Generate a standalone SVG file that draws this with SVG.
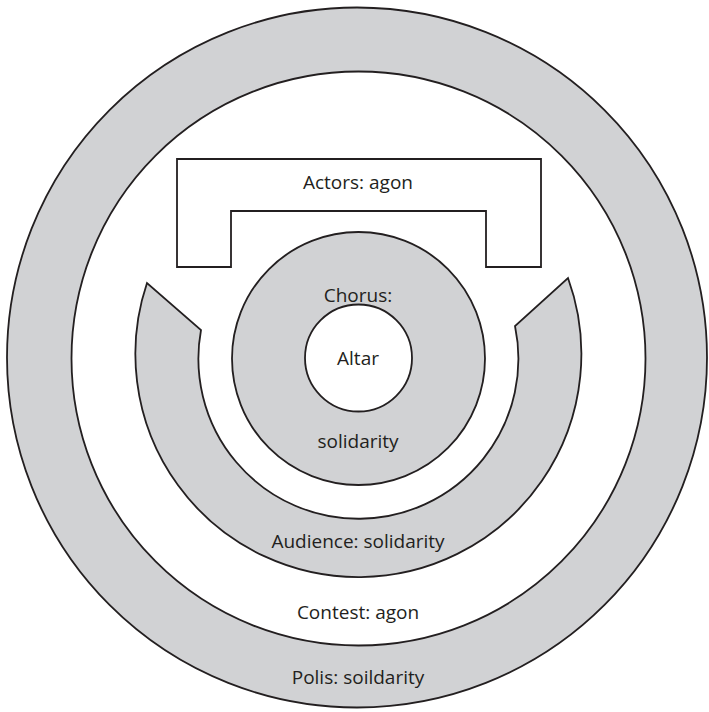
<svg xmlns="http://www.w3.org/2000/svg" width="709" height="712" viewBox="0 0 709 712">
<style>
.s{stroke:#231f20;stroke-width:1.8;}
.g{fill:#d1d2d4;}
.w{fill:#ffffff;}
text{font-family:"Open Sans","Noto Sans","Liberation Sans",sans-serif;font-size:19px;fill:#231f20;text-anchor:middle;}
</style>
<rect width="709" height="712" fill="#ffffff"/>
<g id="polis">
<circle class="s g" cx="357" cy="357.5" r="350"/>
</g>
<g id="contest">
<circle class="s w" cx="358.5" cy="358.5" r="287"/>
</g>
<g id="audience">
<path class="s g" d="M147,283 A223,223 0 1,0 568,278 L515,326 A160,160 0 1,1 201,330 Z"/>
</g>
<g id="actors">
<path class="s w" d="M177,159 L541,159 L541,267 L486,267 L486,211 L231,211 L231,267 L177,267 Z"/>
</g>
<g id="chorus">
<circle class="s g" cx="358.5" cy="358.5" r="126.5"/>
</g>
<g id="altar">
<circle class="s w" cx="358.5" cy="358" r="53.5"/>
</g>
<g id="connectors"></g>
<g id="labels">
<text x="358" y="189">Actors: agon</text>
<text x="358" y="302">Chorus:</text>
<text x="358" y="365">Altar</text>
<text x="358" y="448">solidarity</text>
<text x="358" y="548">Audience: solidarity</text>
<text x="358" y="619">Contest: agon</text>
<text x="358" y="684">Polis: soildarity</text>
</g>
</svg>
